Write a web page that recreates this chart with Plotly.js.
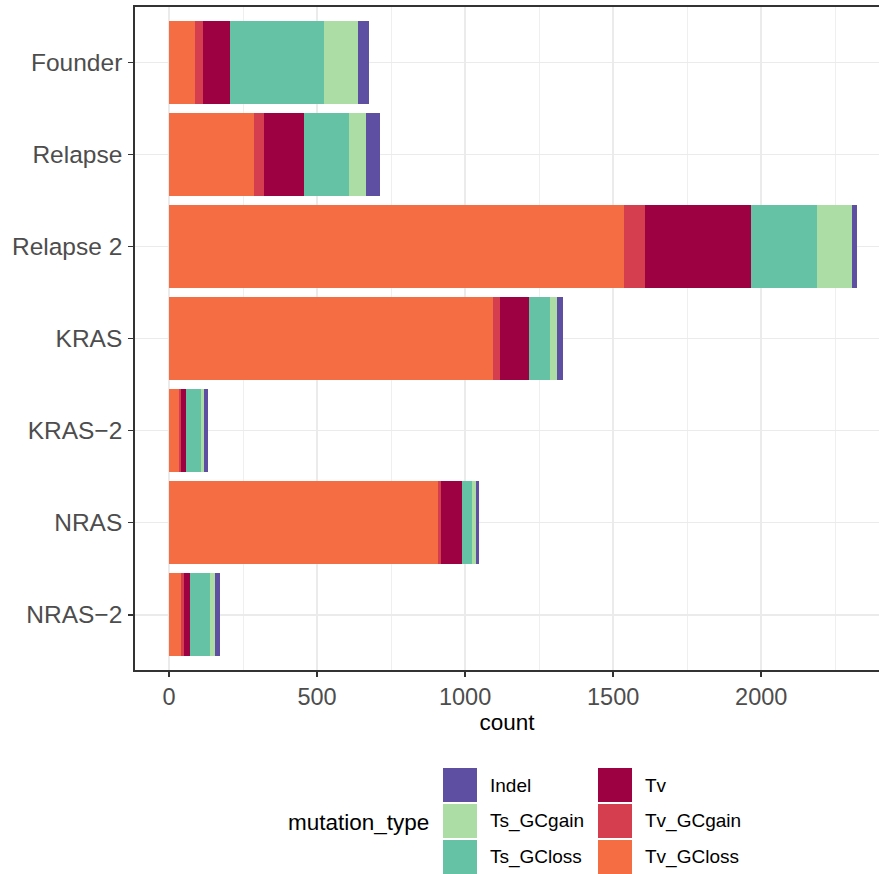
<!DOCTYPE html>
<html>
<head>
<meta charset="utf-8">
<script src="https://cdn.plot.ly/plotly-3.0.1.min.js"></script>
<style>html,body{margin:0;padding:0;background:#fff;}#chart{width:879px;height:874px;}</style>
</head>
<body>
<div id="chart"></div>
<script>
// ---- data ----
const samples = ["Founder", "Relapse", "Relapse 2", "KRAS", "KRAS\u22122", "NRAS", "NRAS\u22122"];
const Tv_GCloss = [88, 287, 1537, 1095, 34, 909, 41];
const Tv_GCgain = [27, 34, 71, 24, 7, 10, 10];
const Tv        = [91, 135, 358, 98, 17, 71, 20];
const Ts_GCloss = [318, 152, 223, 71, 51, 34, 68];
const Ts_GCgain = [115, 57, 118, 24, 10, 14, 17];
const Indel     = [37, 47, 17, 17, 13, 10, 17];
const xTicks = [0, 500, 1000, 1500, 2000];

// stacking order (from 0 outward)
const stackNames = ["Tv_GCloss", "Tv_GCgain", "Tv", "Ts_GCloss", "Ts_GCgain", "Indel"];
const stackValues = [Tv_GCloss, Tv_GCgain, Tv, Ts_GCloss, Ts_GCgain, Indel];
const colors = {
  Indel: "#5E4FA2", Ts_GCgain: "#ABDDA4", Ts_GCloss: "#66C2A5",
  Tv: "#9E0142", Tv_GCgain: "#D53E4F", Tv_GCloss: "#F46D43"
};
// legend order (column-major, 2 columns)
const legendOrder = ["Indel", "Ts_GCgain", "Ts_GCloss", "Tv", "Tv_GCgain", "Tv_GCloss"];

const traces = stackNames.map((n, i) => ({
  type: "bar", orientation: "h", name: n,
  y: samples, x: stackValues[i],
  marker: {color: colors[n], line: {width: 0}},
  showlegend: false, hoverinfo: "x+y+name"
}));

// pixel geometry helpers for the custom legend
const W = 879, H = 874;
const mL = 135, mR = 0, mT = 7, mB = 204;
const pw = W - mL - mR, ph = H - mT - mB;
const px = x => (x - mL) / pw;
const py = y => (H - mB - y) / ph;

const shapes = [], annotations = [];
const colX = [443, 598], rowY = [768, 804, 840], sw = 34;
legendOrder.forEach((n, k) => {
  const c = Math.floor(k / 3), r = k % 3;
  const x0 = colX[c], y0 = rowY[r];
  shapes.push({type: "rect", xref: "paper", yref: "paper",
    x0: px(x0), x1: px(x0 + sw), y0: py(y0 + sw), y1: py(y0),
    fillcolor: colors[n], line: {width: 0}});
  annotations.push({xref: "paper", yref: "paper", x: px(x0 + sw + 11), y: py(y0 + sw / 2),
    xanchor: "left", yanchor: "middle", text: n, showarrow: false,
    font: {size: 19, color: "#000"}});
});
annotations.push({xref: "paper", yref: "paper", x: px(286), y: py(822),
  xanchor: "left", yanchor: "middle", text: "mutation_type", showarrow: false,
  font: {size: 22.5, color: "#000"}});

const layout = {
  width: W, height: H,
  margin: {l: mL, r: mR, t: mT, b: mB, pad: 0},
  paper_bgcolor: "#fff", plot_bgcolor: "#fff",
  font: {family: "Liberation Sans, Arial, sans-serif", color: "#000"},
  barmode: "stack", bargap: 0.1,
  showlegend: false,
  xaxis: {
    range: [-114.8, 2397.8], tickvals: xTicks, ticktext: xTicks.map(String),
    showgrid: true, gridcolor: "#EBEBEB", gridwidth: 1.5,
    minor: {dtick: 250, tick0: 250, showgrid: true, gridcolor: "#EBEBEB", gridwidth: 0.8, ticks: ""},
    zeroline: false,
    showline: true, linecolor: "#333333", linewidth: 1.8, mirror: true,
    ticks: "outside", ticklen: 5, tickwidth: 1.5, tickcolor: "#333333",
    tickfont: {size: 23.5, color: "#4D4D4D"},
    title: {text: "count", font: {size: 22.5, color: "#000"}, standoff: 4}
  },
  yaxis: {
    type: "category", categoryarray: samples, categoryorder: "array",
    range: [6.6, -0.6],
    showgrid: true, gridcolor: "#EBEBEB", gridwidth: 1.5,
    zeroline: false,
    showline: true, linecolor: "#333333", linewidth: 1.8, mirror: false,
    ticks: "outside", ticklen: 5, tickwidth: 1.5, tickcolor: "#333333",
    ticklabelstandoff: 1,
    tickfont: {size: 24.5, color: "#4D4D4D"}
  },
  shapes: shapes, annotations: annotations
};

Plotly.newPlot("chart", traces, layout, {displayModeBar: false, staticPlot: true});
</script>
</body>
</html>
